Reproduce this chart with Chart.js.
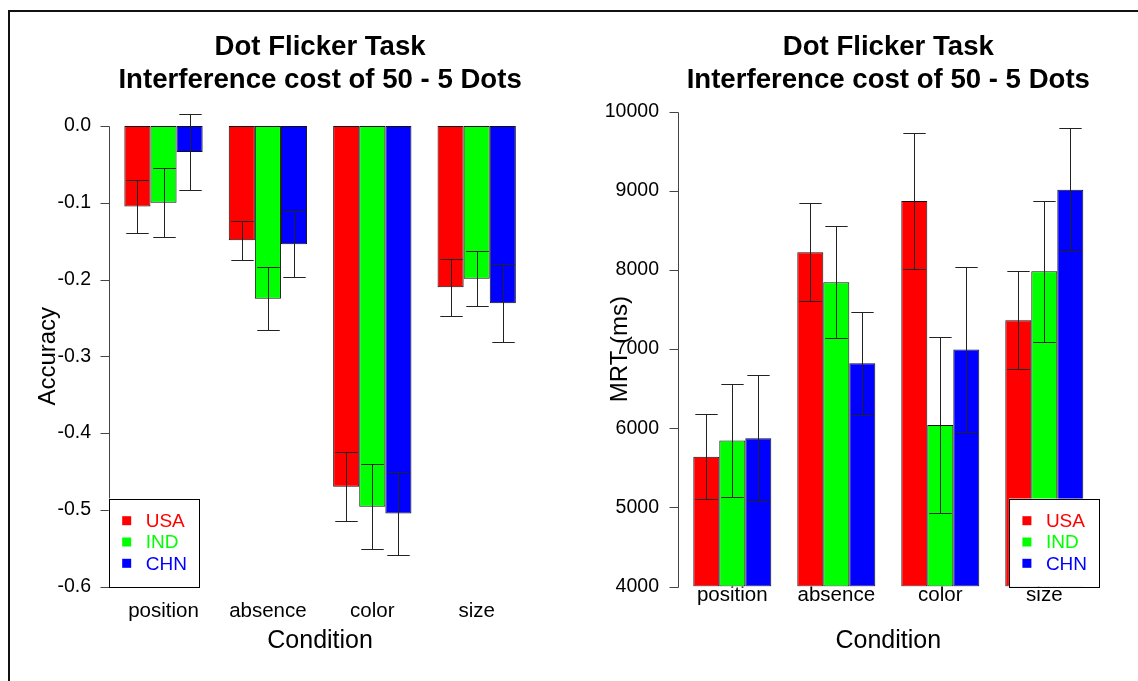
<!DOCTYPE html>
<html>
<head>
<meta charset="utf-8">
<script src="https://cdn.jsdelivr.net/npm/chart.js@4.4.1/dist/chart.umd.min.js"></script>
<style>
html, body { margin: 0; padding: 0; background: #fff; overflow: hidden; }
#wrap { position: relative; width: 1138px; height: 681px; overflow: hidden; background: #fff; }
#frame { position: absolute; left: 8px; top: 10px; width: 1200px; height: 800px;
         border-left: 2px solid #111; border-top: 2px solid #111; }
canvas { position: absolute; top: 0; }
#acc { left: 0; }
#mrt { left: 569px; }
</style>
</head>
<body>
<div id="wrap">
  <div id="frame"></div>
  <canvas id="acc" width="569" height="681"></canvas>
  <canvas id="mrt" width="569" height="681"></canvas>
</div>
<script>
// data
const conditions = ['position', 'absence', 'color', 'size'];
const countries = ['USA', 'IND', 'CHN'];
const barColors = ['#ff0000', '#00ff00', '#0000ff'];

// accuracy cost (left panel)
const accUSA = [-0.105, -0.149, -0.470, -0.210];
const accIND = [-0.100, -0.225, -0.496, -0.199];
const accCHN = [-0.034, -0.154, -0.505, -0.231];
const accErrUSA = [0.034, 0.025, 0.045, 0.037];
const accErrIND = [0.045, 0.041, 0.055, 0.036];
const accErrCHN = [0.049, 0.043, 0.054, 0.051];

// mean RT (right panel)
const mrtUSA = [5640, 8225, 8870, 7365];
const mrtIND = [5845, 7845, 6040, 7985];
const mrtCHN = [5875, 6820, 6995, 9015];
const mrtErrUSA = [540, 620, 855, 617];
const mrtErrIND = [708, 708, 1116, 891];
const mrtErrCHN = [800, 655, 1037, 779];

const titleLines = ['Dot Flicker Task', 'Interference cost of 50 - 5 Dots'];
const FONT = '"Liberation Sans", Arial, Helvetica, sans-serif';
Chart.defaults.font.family = FONT;
Chart.defaults.color = '#000';

// R style axis line + ticks, error bars and boxed legend
const rStuff = {
  id: 'rStuff',
  afterDatasetsDraw(chart, args, opts) {
    const ctx = chart.ctx;
    const ca = chart.chartArea;
    const y = chart.scales.y;
    const unit = ca.width / 16;

    // axis line between first and last tick
    const ax = Math.round(ca.left - 0.1 * unit) + 0.5;
    ctx.save();
    ctx.strokeStyle = '#444';
    ctx.lineWidth = 1;
    ctx.beginPath();
    ctx.moveTo(ax, Math.round(y.getPixelForValue(y.min)) + 0.5);
    ctx.lineTo(ax, Math.round(y.getPixelForValue(y.max)) + 0.5);
    y.ticks.forEach(t => {
      const py = Math.round(y.getPixelForValue(t.value)) + 0.5;
      ctx.moveTo(ax - 9, py);
      ctx.lineTo(ax, py);
    });
    ctx.stroke();

    // error bars
    ctx.strokeStyle = '#222';
    chart.data.datasets.forEach((ds, i) => {
      const meta = chart.getDatasetMeta(i);
      meta.data.forEach((bar, j) => {
        const m = ds.data[j], e = ds.errors[j];
        const x = Math.round(bar.x) + 0.5;
        const hw = bar.width * 0.43;
        const yHi = Math.round(y.getPixelForValue(m + e)) + 0.5;
        const yLo = Math.round(y.getPixelForValue(m - e)) + 0.5;
        ctx.beginPath();
        ctx.moveTo(x, yHi); ctx.lineTo(x, yLo);
        ctx.moveTo(x - hw, yHi); ctx.lineTo(x + hw, yHi);
        ctx.moveTo(x - hw, yLo); ctx.lineTo(x + hw, yLo);
        ctx.stroke();
      });
    });

    // legend box in a bottom corner of the plot region
    const bw = 90, bh = 88;
    const bx = opts.side === 'left' ? ca.left - 0.1 * unit : ca.right + 0.1 * unit - bw;
    const by = ca.bottom - bh;
    ctx.fillStyle = '#fff';
    ctx.fillRect(bx, by, bw, bh);
    ctx.strokeStyle = '#000';
    ctx.strokeRect(Math.round(bx) + 0.5, Math.round(by) + 0.5, bw, bh);
    ctx.font = '19px ' + FONT;
    ctx.textBaseline = 'middle';
    ctx.textAlign = 'left';
    const rows = [65.8, 44.5, 23.2];
    chart.data.datasets.forEach((ds, i) => {
      const cy = ca.bottom - rows[i];
      ctx.fillStyle = ds.backgroundColor;
      ctx.fillRect(bx + 13.5, cy - 4.5, 9, 9);
      ctx.fillText(ds.label, bx + 37, cy + 1);
    });
    ctx.restore();
  }
};

function makeChart(id, p) {
  const datasets = countries.map((c, i) => ({
    label: c,
    data: p.series[i],
    errors: p.errors[i],
    backgroundColor: barColors[i],
    borderColor: '#111',
    borderWidth: 1,
    borderSkipped: false,
    base: p.base,
    categoryPercentage: 0.75,
    barPercentage: 1.0
  }));
  return new Chart(document.getElementById(id), {
    type: 'bar',
    data: { labels: conditions, datasets: datasets },
    options: {
      responsive: false,
      animation: false,
      layout: { padding: { left: 0, right: p.padRight, top: 0, bottom: 0 } },
      plugins: {
        legend: { display: false },
        tooltip: { enabled: false },
        title: {
          display: true,
          fullSize: false,
          text: titleLines,
          color: '#000',
          font: { size: 27.6, weight: 'bold', lineHeight: 33 / 27.6 },
          padding: { top: 30.5, bottom: p.titleGap }
        },
        rStuff: { side: p.legendSide }
      },
      scales: {
        x: {
          grid: { display: false, drawTicks: false },
          border: { display: false },
          ticks: { padding: p.xTickPad, font: { size: 20.5 }, color: '#000', maxRotation: 0 },
          title: { display: true, text: 'Condition', font: { size: 25 }, color: '#000', padding: { top: 0, bottom: 25 } },
          afterFit: s => { s.height = 94.5; }
        },
        y: {
          min: p.yMin, max: p.yMax,
          grid: { display: false, drawTicks: false },
          border: { display: false },
          ticks: { stepSize: p.step, padding: p.yTickPad, font: { size: 19.5 }, color: '#000', callback: p.fmt },
          title: { display: true, text: p.yTitle, font: { size: 24 }, color: '#000', padding: { top: p.yTitlePad, bottom: 0 } },
          afterFit: s => { s.width = 111.3; }
        }
      }
    },
    plugins: [rStuff]
  });
}

makeChart('acc', {
  series: [accUSA, accIND, accCHN],
  errors: [accErrUSA, accErrIND, accErrCHN],
  base: 0, yMin: -0.6, yMax: 0, step: 0.1,
  fmt: v => Number(v).toFixed(1),
  yTitle: 'Accuracy', yTitlePad: 33.6, yTickPad: 20.3,
  xTickPad: 12.5, titleGap: 29.5, padRight: 40.1, legendSide: 'left'
});

makeChart('mrt', {
  series: [mrtUSA, mrtIND, mrtCHN],
  errors: [mrtErrUSA, mrtErrIND, mrtErrCHN],
  base: 4000, yMin: 4000, yMax: 10000, step: 1000,
  fmt: v => String(v),
  yTitle: 'MRT (ms)', yTitlePad: 37, yTickPad: 21.3,
  xTickPad: -3.5, titleGap: 15.2, padRight: 41.7, legendSide: 'right'
});
</script>
</body>
</html>
